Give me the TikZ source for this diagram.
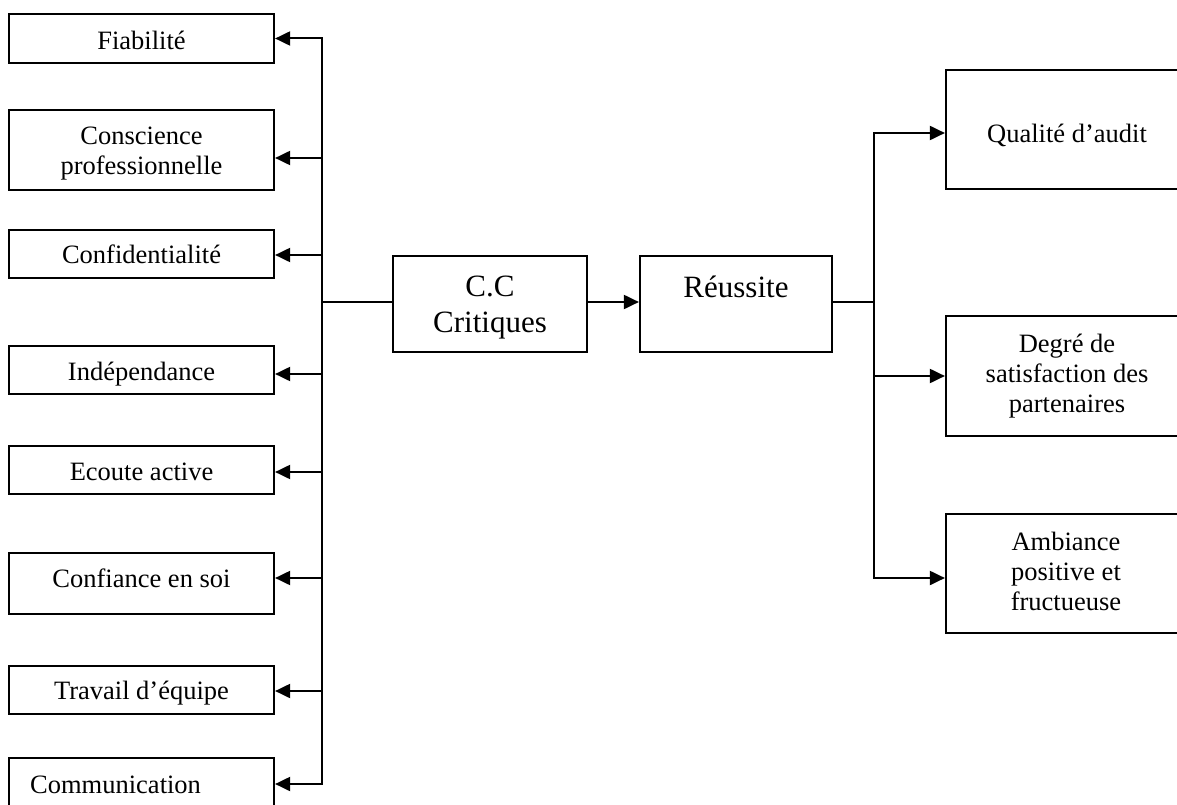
\documentclass[tikz,border=0pt]{standalone}
\usepackage{fontspec}
\setmainfont{Liberation Serif}
\usetikzlibrary{arrows.meta,calc}

\tikzset{
  box/.style={draw, line width=2.2pt, rectangle, inner sep=0pt},
  lbox/.style={box, minimum width=265pt},
  rbox/.style={box, minimum width=242pt},
  txt/.style={inner sep=0pt, align=center},
  link/.style={draw, line width=2pt, line cap=rect},
  arr/.style={draw, line width=2pt, -{Triangle[length=15pt,width=14pt]}},
}

\begin{document}
\begin{tikzpicture}[x=1pt, y=-1pt, font=\fontsize{26.5}{30}\selectfont]
\clip (0,0) rectangle (1177,805);
\fill[white] (0,0) rectangle (1177,805);

% left column of competences
\node[lbox, minimum height=49pt] (fiab) at (141.5,38.5) {};
\node[lbox, minimum height=80pt] (cons) at (141.5,150) {};
\node[lbox, minimum height=48pt] (conf) at (141.5,254) {};
\node[lbox, minimum height=48pt] (indep) at (141.5,370) {};
\node[lbox, minimum height=48pt] (ecoute) at (141.5,470) {};
\node[lbox, minimum height=61pt] (confiance) at (141.5,583.5) {};
\node[lbox, minimum height=48pt] (travail) at (141.5,690) {};
\node[lbox, minimum height=50pt] (comm) at (141.5,783) {};

\node[txt, anchor=base] (tfiab) at (141.5,50) {Fiabilité};
\node[txt] (tcons) at (141.5,153.8) {Conscience\\professionnelle};
\node[txt, anchor=base] (tconf) at (141.5,263) {Confidentialité};
\node[txt, anchor=base] (tindep) at (141.5,380) {Indépendance};
\node[txt, anchor=base] (tecoute) at (141.5,480) {Ecoute active};
\node[txt, anchor=base] (tconfiance) at (141.5,587) {Confiance en soi};
\node[txt, anchor=base] (ttravail) at (141.5,699) {Travail d’équipe};
\node[txt, anchor=base west] (tcomm) at (30,793) {Communication};

% central boxes
\node[box, minimum width=194pt, minimum height=96pt] (cc) at (490,304) {};
\node[txt, font=\fontsize{31}{36}\selectfont] (tcc) at (490,307.9) {C.C\\Critiques};
\node[box, minimum width=192pt, minimum height=96pt] (reu) at (736,304) {};
\node[txt, anchor=base, font=\fontsize{31}{36}\selectfont] (treu) at (736,297) {Réussite};

% right column of outcomes
\node[rbox, minimum height=119pt] (qual) at (1067,129.5) {};
\node[rbox, minimum height=120pt] (degre) at (1067,376) {};
\node[rbox, minimum height=119pt] (amb) at (1067,573.5) {};

\node[txt, anchor=base] (tqual) at (1067,143) {Qualité d’audit};
\node[txt] (tdegre) at (1067,375.7) {Degré de\\satisfaction des\\partenaires};
\node[txt] (tamb) at (1066,571.1) {Ambiance\\positive et\\fructueuse};

% left spine
\coordinate (lj) at (322,302);
\draw[link] ([yshift=2pt]cc.west) -- (lj);
\draw[link] (fiab.east -| lj) -- ([yshift=-1pt]comm.east -| lj);
\foreach \n/\s in {fiab/0, cons/-8, conf/-1, indep/-4, ecoute/-2, confiance/5.5, travail/-1, comm/-1}
  \draw[arr] ([yshift=\s pt]\n.east -| lj) -- ([yshift=\s pt]\n.east);

% centre link
\draw[arr] ([yshift=2pt]cc.east) -- ([yshift=2pt]reu.west);

% right spine
\coordinate (rj) at (874,302);
\draw[link] ([yshift=2pt]reu.east) -- (rj);
\draw[link] ([yshift=-3.5pt]qual.west -| rj) -- ([yshift=-4.5pt]amb.west -| rj);
\foreach \n/\s in {qual/-3.5, degre/0, amb/-4.5}
  \draw[arr] ([yshift=\s pt]\n.west -| rj) -- ([yshift=\s pt]\n.west);
\end{tikzpicture}
\end{document}
